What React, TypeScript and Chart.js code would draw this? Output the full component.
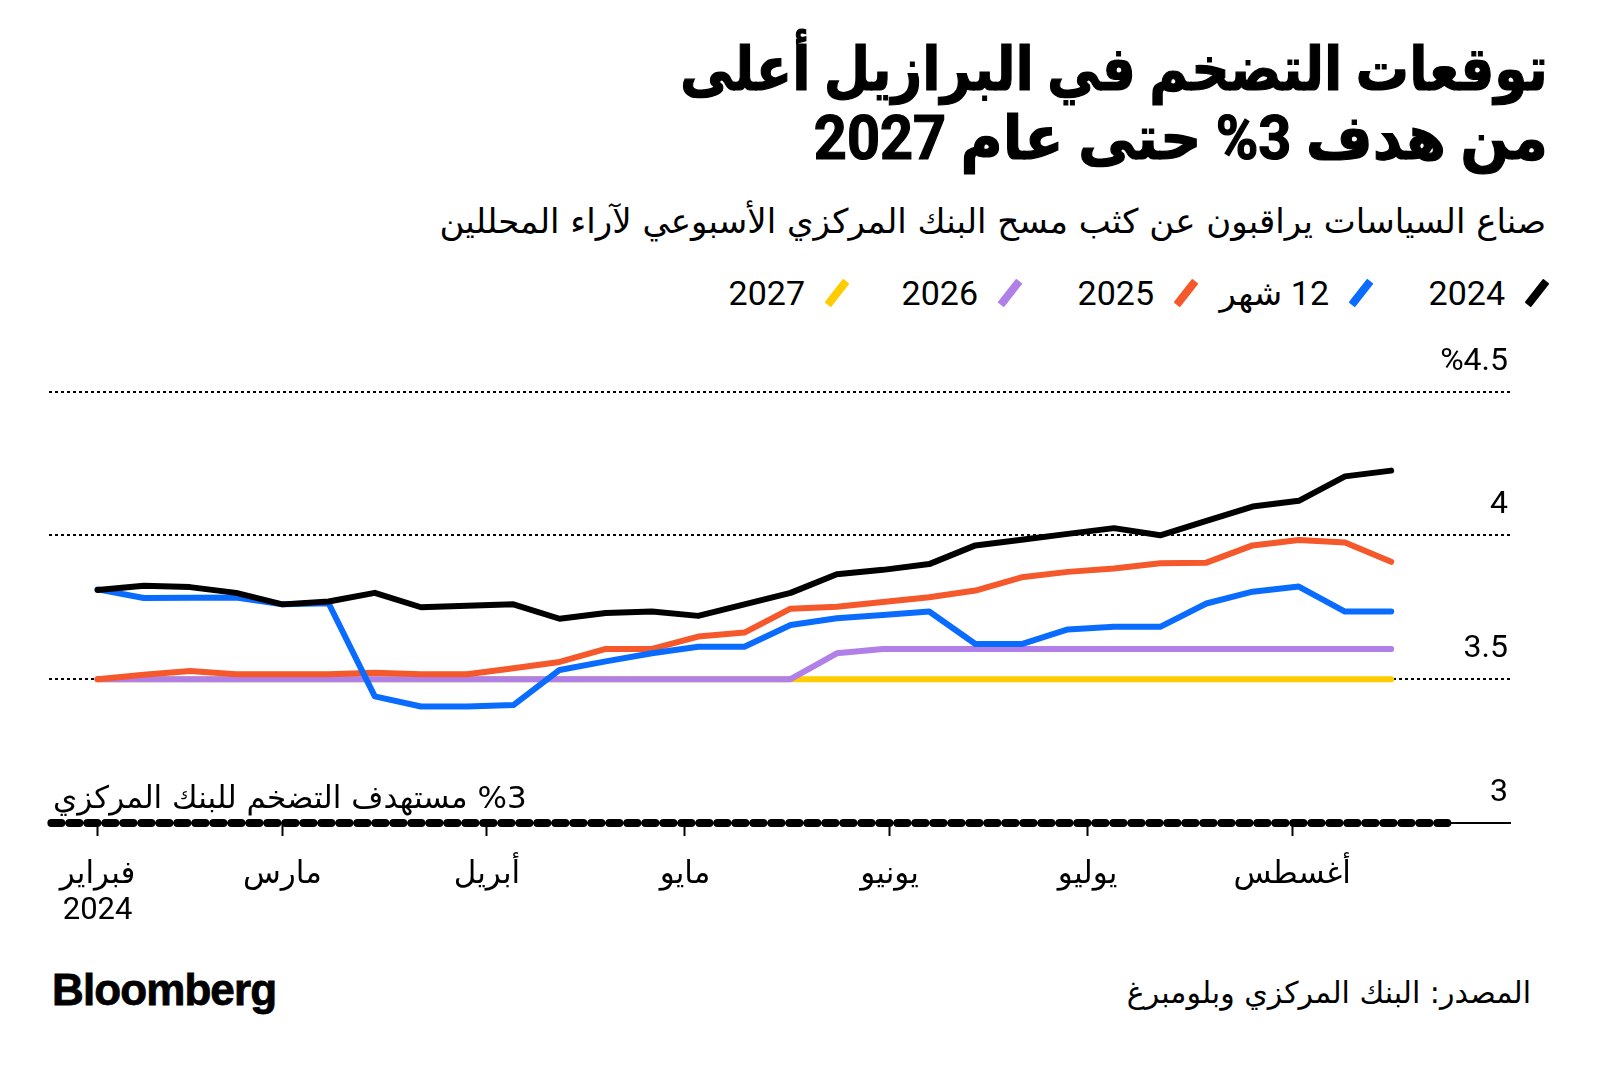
import React, { useEffect, useRef } from "react";
import { Chart, registerables } from "chart.js";

Chart.register(...registerables);

// Weekly Focus survey dates
const weekDates = [
  "2024-02-02", "2024-02-09", "2024-02-16", "2024-02-23",
  "2024-03-01", "2024-03-08", "2024-03-15", "2024-03-22", "2024-03-29",
  "2024-04-05", "2024-04-12", "2024-04-19", "2024-04-26",
  "2024-05-03", "2024-05-10", "2024-05-17", "2024-05-24", "2024-05-31",
  "2024-06-07", "2024-06-14", "2024-06-21", "2024-06-28",
  "2024-07-05", "2024-07-12", "2024-07-19", "2024-07-26",
  "2024-08-02", "2024-08-09", "2024-08-16",
];

const series2024 = [
  3.81, 3.825, 3.82, 3.80, 3.76, 3.77, 3.80, 3.75, 3.755, 3.76,
  3.71, 3.73, 3.735, 3.72, 3.76, 3.80, 3.865, 3.88, 3.90, 3.965,
  3.985, 4.005, 4.025, 4.0, 4.05, 4.10, 4.12, 4.205, 4.225,
];
const series12m = [
  3.812, 3.782, 3.783, 3.784, 3.76, 3.764, 3.44, 3.405, 3.405, 3.41,
  3.532, 3.562, 3.59, 3.613, 3.613, 3.688, 3.712, 3.723, 3.735, 3.622,
  3.622, 3.673, 3.682, 3.682, 3.763, 3.804, 3.822, 3.735, 3.735,
];
const series2025 = [
  3.50, 3.515, 3.528, 3.517, 3.517, 3.517, 3.522, 3.517, 3.517, 3.538,
  3.56, 3.605, 3.605, 3.648, 3.662, 3.745, 3.752, 3.768, 3.785, 3.808,
  3.854, 3.873, 3.885, 3.903, 3.905, 3.965, 3.984, 3.975, 3.908,
];
const series2026 = [
  3.5, 3.5, 3.5, 3.5, 3.5, 3.5, 3.5, 3.5, 3.5, 3.5,
  3.5, 3.5, 3.5, 3.5, 3.5, 3.5, 3.59, 3.605, 3.605, 3.605,
  3.605, 3.605, 3.605, 3.605, 3.605, 3.605, 3.605, 3.605, 3.605,
];
const series2027 = [
  3.5, 3.5, 3.5, 3.5, 3.5, 3.5, 3.5, 3.5, 3.5, 3.5,
  3.5, 3.5, 3.5, 3.5, 3.5, 3.5, 3.5, 3.5, 3.5, 3.5,
  3.5, 3.5, 3.5, 3.5, 3.5, 3.5, 3.5, 3.5, 3.5,
];

// Central bank 3% target reference line
const targetDates = ["2024-01-26", "2024-08-25"];
const targetValues = [3, 3];

// Axis ticks
const monthTickDates = [
  "2024-02-02", "2024-03-01", "2024-04-01", "2024-05-01",
  "2024-06-01", "2024-07-01", "2024-08-01",
];
const monthTickLabels: (string | string[])[] = [
  ["فبراير", "2024"], "مارس", "أبريل", "مايو", "يونيو", "يوليو", "أغسطس",
];
const yTickValues = [3, 3.5, 4, 4.5];
const yTickLabels = ["3", "3.5", "4", "%4.5"];

const legendLabels = ["2024", "12 شهر", "2025", "2026", "2027"];
const seriesColors = ["#000000", "#0a6cff", "#f4582b", "#b07fe8", "#ffcc00"];

const title1 = "توقعات التضخم في البرازيل أعلى";
const title2 = "من هدف 3% حتى عام 2027";
const subtitle = "صناع السياسات يراقبون عن كثب مسح البنك المركزي الأسبوعي لآراء المحللين";
const targetNote = "%3 مستهدف التضخم للبنك المركزي";
const sourceText = "المصدر: البنك المركزي وبلومبرغ";

const FONT = "Roboto, 'DejaVu Sans', sans-serif";
const AR = "'DejaVu Sans', Roboto, sans-serif";

// right offsets (px from the right page edge) of each legend entry
const LEGEND_RIGHT = [51, 227, 402, 578, 751];

const toDay = (s: string) => {
  const [y, m, d] = s.split("-").map(Number);
  return (Date.UTC(y, m - 1, d) - Date.UTC(2024, 1, 1)) / 86400000;
};

export default function App() {
  const ref = useRef<HTMLCanvasElement>(null);

  useEffect(() => {
    const canvas = ref.current!;
    const pts = (vals: number[]) => vals.map((v, i) => ({ x: toDay(weekDates[i]), y: v }));
    const monthTickDays = monthTickDates.map(toDay);
    const allSeries = [series2024, series12m, series2025, series2026, series2027];
    const lineDs = (i: number) => ({
      label: legendLabels[i],
      data: pts(allSeries[i]),
      borderColor: seriesColors[i],
      backgroundColor: seriesColors[i],
      borderWidth: 6,
      pointRadius: 0,
      borderCapStyle: "round" as const,
      borderJoinStyle: "round" as const,
      tension: 0,
      fill: false,
      clip: false,
    });

    const chart = new Chart(canvas, {
      type: "line",
      data: {
        datasets: [
          lineDs(0),
          lineDs(1),
          lineDs(2),
          lineDs(3),
          lineDs(4),
          {
            label: "target",
            data: targetDates.map((d, i) => ({ x: toDay(d), y: targetValues[i] })),
            borderColor: "#000",
            borderWidth: 8,
            borderDash: [10, 8],
            borderCapStyle: "round",
            pointRadius: 0,
            fill: false,
            clip: false,
          } as any,
        ],
      },
      options: {
        responsive: false,
        animation: false,
        layout: { padding: { left: 49, right: 90, top: 61.5, bottom: 27 } },
        plugins: { legend: { display: false }, tooltip: { enabled: false } },
        scales: {
          x: {
            type: "linear",
            position: "bottom",
            min: -6.36,
            max: 215,
            afterBuildTicks: (s: any) => {
              s.ticks = monthTickDays.map((v) => ({ value: v }));
            },
            afterFit: (s: any) => {
              s.height = 100;
            },
            ticks: {
              autoSkip: false,
              maxRotation: 0,
              minRotation: 0,
              padding: 21,
              color: "#000",
              font: { family: FONT, size: 31, lineHeight: 1.17 },
              callback: (v: any) => {
                const i = monthTickDays.indexOf(Number(v));
                return i >= 0 ? monthTickLabels[i] : "";
              },
            },
            grid: {
              display: true,
              drawOnChartArea: false,
              drawTicks: true,
              tickLength: 13,
              tickWidth: 2,
              tickColor: "#000",
            },
            border: { display: true, color: "#000", width: 2 },
          },
          y: {
            type: "linear",
            position: "right",
            min: 3,
            max: 4.5,
            afterBuildTicks: (s: any) => {
              s.ticks = yTickValues.map((v) => ({ value: v }));
            },
            afterFit: (s: any) => {
              s.width = 0;
            },
            ticks: {
              mirror: true,
              padding: -2,
              labelOffset: -30,
              color: "#000",
              font: { family: FONT, size: 32 },
              callback: (v: any) => {
                const i = yTickValues.indexOf(Number(v));
                return i >= 0 ? yTickLabels[i] : "";
              },
            },
            grid: {
              drawTicks: false,
              lineWidth: 2,
              color: (ctx: any) =>
                ctx.tick && ctx.tick.value === 3 ? "rgba(0,0,0,0)" : "#000",
            },
            border: { display: false, dash: [3, 3] },
          },
        },
      } as any,
    });
    return () => chart.destroy();
  }, []);

  const titleLine = (text: string, scale: number) => (
    <div style={{ transform: `scaleX(${scale})`, transformOrigin: "right center" }}>{text}</div>
  );

  return (
    <div
      style={{
        position: "fixed",
        left: 0,
        top: 0,
        width: 1600,
        height: 1069,
        background: "#fff",
        overflow: "hidden",
      }}
    >
      <div
        style={{
          position: "absolute",
          right: 52,
          top: 35,
          direction: "rtl",
          textAlign: "right",
          fontFamily: FONT,
          fontWeight: 700,
          fontSize: 61,
          lineHeight: "69px",
          color: "#000",
          whiteSpace: "nowrap",
          WebkitTextStroke: "1.2px #000",
        }}
      >
        {titleLine(title1, 0.875)}
        {titleLine(title2, 0.945)}
      </div>
      <div
        style={{
          position: "absolute",
          right: 54,
          top: 201,
          direction: "rtl",
          fontFamily: AR,
          fontSize: 34,
          lineHeight: "40px",
          color: "#000",
          whiteSpace: "nowrap",
        }}
      >
        {subtitle}
      </div>
      {legendLabels.map((l, i) => (
        <div
          key={l}
          style={{
            position: "absolute",
            right: LEGEND_RIGHT[i],
            top: 273,
            height: 40,
            direction: "rtl",
            display: "flex",
            alignItems: "center",
            gap: 20,
            fontFamily: FONT,
            fontSize: 34,
            lineHeight: "40px",
            color: "#000",
            whiteSpace: "nowrap",
          }}
        >
          <div style={{ width: 24, height: 30, position: "relative" }}>
            <div
              style={{
                position: "absolute",
                left: 8,
                top: 0,
                width: 8,
                height: 30,
                background: seriesColors[i],
                transform: "rotate(38deg)",
                borderRadius: 1,
              }}
            />
          </div>
          <div>{l}</div>
        </div>
      ))}
      <canvas
        ref={ref}
        width={1600}
        height={620}
        style={{ position: "absolute", left: 0, top: 330, width: 1600, height: 620 }}
      />
      <div
        style={{
          position: "absolute",
          left: 53,
          top: 779,
          direction: "rtl",
          fontFamily: AR,
          fontSize: 31,
          lineHeight: "37px",
          color: "#000",
          whiteSpace: "nowrap",
        }}
      >
        {targetNote}
      </div>
      <div
        style={{
          position: "absolute",
          left: 52,
          top: 965,
          fontFamily: "'Liberation Sans', Arial, sans-serif",
          fontWeight: 700,
          fontSize: 44,
          lineHeight: "50px",
          letterSpacing: -0.9,
          color: "#000",
          WebkitTextStroke: "0.8px #000",
        }}
      >
        Bloomberg
      </div>
      <div
        style={{
          position: "absolute",
          right: 69,
          top: 975,
          direction: "rtl",
          fontFamily: AR,
          fontSize: 30,
          lineHeight: "36px",
          color: "#000",
          whiteSpace: "nowrap",
        }}
      >
        {sourceText}
      </div>
    </div>
  );
}
